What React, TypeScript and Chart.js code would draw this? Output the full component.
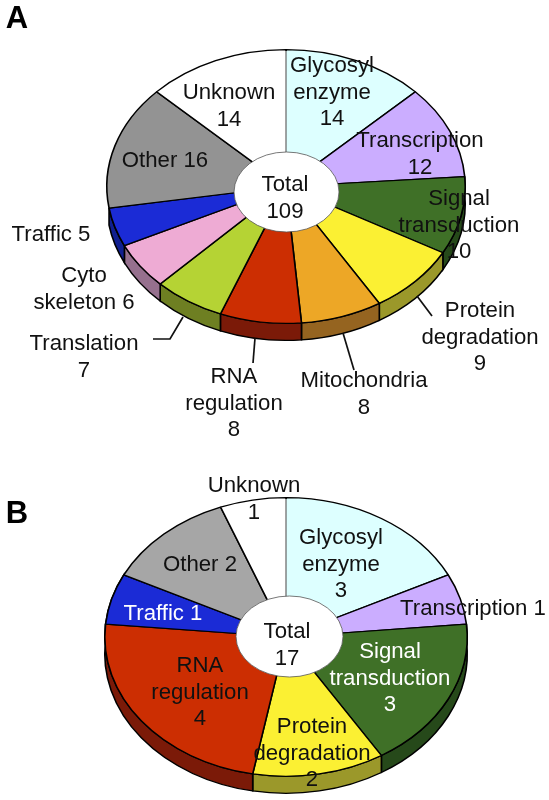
import React, { useEffect, useRef } from "react";
import { Chart, registerables } from "chart.js";

Chart.register(...registerables);

const FONT = '"Liberation Sans", Arial, sans-serif';

// ---- data ----
const categoriesA = ["Glycosyl enzyme", "Transcription", "Signal transduction", "Protein degradation", "Mitochondria", "RNA regulation", "Translation", "Cytoskeleton", "Traffic", "Other", "Unknown"];
const valuesA = [14, 12, 10, 9, 8, 8, 7, 6, 5, 16, 14];
const colorsA = ["#DDFFFF", "#CBADFF", "#3F7027", "#FBF033", "#EDA726", "#CC2E02", "#B5D334", "#EEABD4", "#1B2BD6", "#939393", "#FFFFFF"];
const sidesA = ["#DDFFFF", "#CBADFF", "#26491A", "#9B982A", "#956420", "#7B1A08", "#6E7F22", "#96708E", "#101F90", "#939393", "#FFFFFF"];

const categoriesB = ["Glycosyl enzyme", "Transcription", "Signal transduction", "Protein degradation", "RNA regulation", "Traffic", "Other", "Unknown"];
const valuesB = [3, 1, 3, 2, 4, 1, 2, 1];
const colorsB = ["#DDFFFF", "#CBADFF", "#3F7027", "#FBF033", "#CC2E02", "#1B2BD6", "#A6A6A6", "#FFFFFF"];
const sidesB = ["#DDFFFF", "#CBADFF", "#26491A", "#9B982A", "#7B1A08", "#101F90", "#A6A6A6", "#FFFFFF"];

// ---- text ----
const textA = [
  ["Glycosyl", "enzyme", "14"], ["Transcription", "12"], ["Signal", "transduction", "10"],
  ["Protein", "degradation", "9"], ["Mitochondria", "8"], ["RNA", "regulation", "8"],
  ["Translation", "7"], ["Cyto", "skeleton 6"], ["Traffic 5"], ["Other 16"], ["Unknown", "14"], ["Total", "109"],
];
const textB = [
  ["Glycosyl", "enzyme", "3"], ["Transcription 1"], ["Signal", "transduction", "3"],
  ["Protein", "degradation", "2"], ["RNA", "regulation", "4"], ["Traffic 1"], ["Other 2"], ["Unknown", "1"], ["Total", "17"],
];

// ---- layout (page pixels) ----
const anchorsA = [
  [332, 66], [420, 141], [459, 199], [480, 311], [364, 381], [234, 377],
  [84, 344], [84, 276], [51, 235], [165, 161], [229, 93], [285, 185],
];
const anchorsB = [
  [341, 538], [473, 609], [390, 652], [312, 727], [200, 666], [163, 614], [200, 565], [254, 486], [287, 632],
];
const whiteLabelsB = [2, 5];
const leadersA = [
  [[153, 339], [170, 339], [183, 317]],
  [[255, 338], [253, 363]],
  [[343, 333], [354, 370]],
  [[417, 296], [432, 316]],
];

const panelA = {
  letter: "A", letterPos: [17, 19], top: 0, height: 450, cx: 286, cy: 186.5, r: 180, k: 0.764, depth: 17,
  hub: [286.5, 192, 52.5, 40], categories: categoriesA, values: valuesA, colors: colorsA, sides: sidesA,
  text: textA, anchors: anchorsA, leaders: leadersA, white: [] as number[],
};
const panelB = {
  letter: "B", letterPos: [17, 514], top: 450, height: 375, cx: 286, cy: 637, r: 182, k: 0.769, depth: 17,
  hub: [289.5, 636.5, 53.5, 40.5], categories: categoriesB, values: valuesB, colors: colorsB, sides: sidesB,
  text: textB, anchors: anchorsB, leaders: [] as number[][][], white: whiteLabelsB,
};

type Panel = typeof panelA;

function makeChart(canvas: HTMLCanvasElement, p: Panel) {
  const plugin = {
    id: "tiltedPie",
    beforeDatasetsDraw(chart: any) {
      const ctx = chart.ctx;
      const arcs = chart.getDatasetMeta(0).data;
      const { x, y } = arcs[0];
      ctx.save();
      ctx.translate(x, y);
      ctx.scale(1, p.k);
      ctx.translate(-x, -y);
      const dy = p.depth / p.k;
      arcs.forEach((a: any, i: number) => {
        if (p.sides[i] === p.colors[i]) return; // back slices show no wall
        ctx.beginPath();
        ctx.arc(a.x, a.y, a.outerRadius, a.startAngle, a.endAngle);
        ctx.arc(a.x, a.y + dy, a.outerRadius, a.endAngle, a.startAngle, true);
        ctx.closePath();
        ctx.fillStyle = p.sides[i];
        ctx.fill();
        ctx.lineWidth = 1.6;
        ctx.strokeStyle = "#000";
        ctx.stroke();
      });
    },
    afterDatasetsDraw(chart: any) {
      const ctx = chart.ctx;
      ctx.restore();

      // the first boundary (12 o'clock) is a thin grey hairline in the reference
      const arcs = chart.getDatasetMeta(0).data;
      const first = arcs[0];
      const last = arcs[arcs.length - 1];
      const yTop = first.y - first.outerRadius * p.k + 1.5;
      const h = first.y - yTop;
      ctx.fillStyle = p.colors[p.colors.length - 1];
      ctx.fillRect(last.x - 2, yTop, 2, h);
      ctx.fillStyle = p.colors[0];
      ctx.fillRect(first.x, yTop, 2, h);
      ctx.fillStyle = "#666";
      ctx.fillRect(first.x - 0.6, yTop, 1.2, h);

      const [hx, hy, hrx, hry] = p.hub;
      ctx.save();
      ctx.translate(0, -p.top);
      ctx.beginPath();
      ctx.ellipse(hx, hy, hrx, hry, 0, 0, Math.PI * 2);
      ctx.fillStyle = "#fff";
      ctx.fill();
      ctx.lineWidth = 0.8;
      ctx.strokeStyle = "#555";
      ctx.stroke();

      ctx.strokeStyle = "#111";
      ctx.lineWidth = 1.7;
      p.leaders.forEach((pts) => {
        ctx.beginPath();
        pts.forEach(([px, py], i) => (i ? ctx.lineTo(px, py) : ctx.moveTo(px, py)));
        ctx.stroke();
      });

      ctx.textAlign = "center";
      ctx.textBaseline = "middle";
      ctx.font = `22.2px ${FONT}`;
      p.text.forEach((lines, i) => {
        const [tx, ty] = p.anchors[i];
        ctx.fillStyle = p.white.includes(i) ? "#fff" : "#111";
        lines.forEach((line, j) => {
          ctx.fillText(line, tx, ty + j * 26.6);
        });
      });
      ctx.fillStyle = "#000";
      ctx.font = `bold 31px ${FONT}`;
      ctx.fillText(p.letter, p.letterPos[0], p.letterPos[1]);
      ctx.restore();
    },
  };

  const padTop = p.cy - p.r - p.top;
  return new Chart(canvas, {
    type: "pie",
    data: {
      labels: p.categories,
      datasets: [{
        data: p.values,
        backgroundColor: p.colors,
        borderColor: "#000",
        borderWidth: 1.6,
        clip: false,
      } as any],
    },
    options: {
      animation: false,
      responsive: false,
      layout: {
        padding: {
          left: p.cx - p.r,
          right: 549 - p.cx - p.r,
          top: padTop,
          bottom: p.height - padTop - 2 * p.r,
        },
      },
      plugins: { legend: { display: false }, tooltip: { enabled: false } },
    },
    plugins: [plugin],
  } as any);
}

function PieCanvas({ panel }: { panel: Panel }) {
  const ref = useRef<HTMLCanvasElement>(null);
  useEffect(() => {
    const chart = makeChart(ref.current!, panel);
    return () => chart.destroy();
  }, [panel]);
  return (
    <canvas
      ref={ref}
      width={549}
      height={panel.height}
      style={{ position: "absolute", left: 0, top: panel.top, width: 549, height: panel.height }}
    />
  );
}

export default function App() {
  useEffect(() => {
    document.body.style.margin = "0";
    document.body.style.background = "#fff";
  }, []);
  return (
    <div style={{ position: "relative", width: 549, height: 800, overflow: "hidden", background: "#fff" }}>
      <PieCanvas panel={panelA} />
      <PieCanvas panel={panelB} />
    </div>
  );
}
